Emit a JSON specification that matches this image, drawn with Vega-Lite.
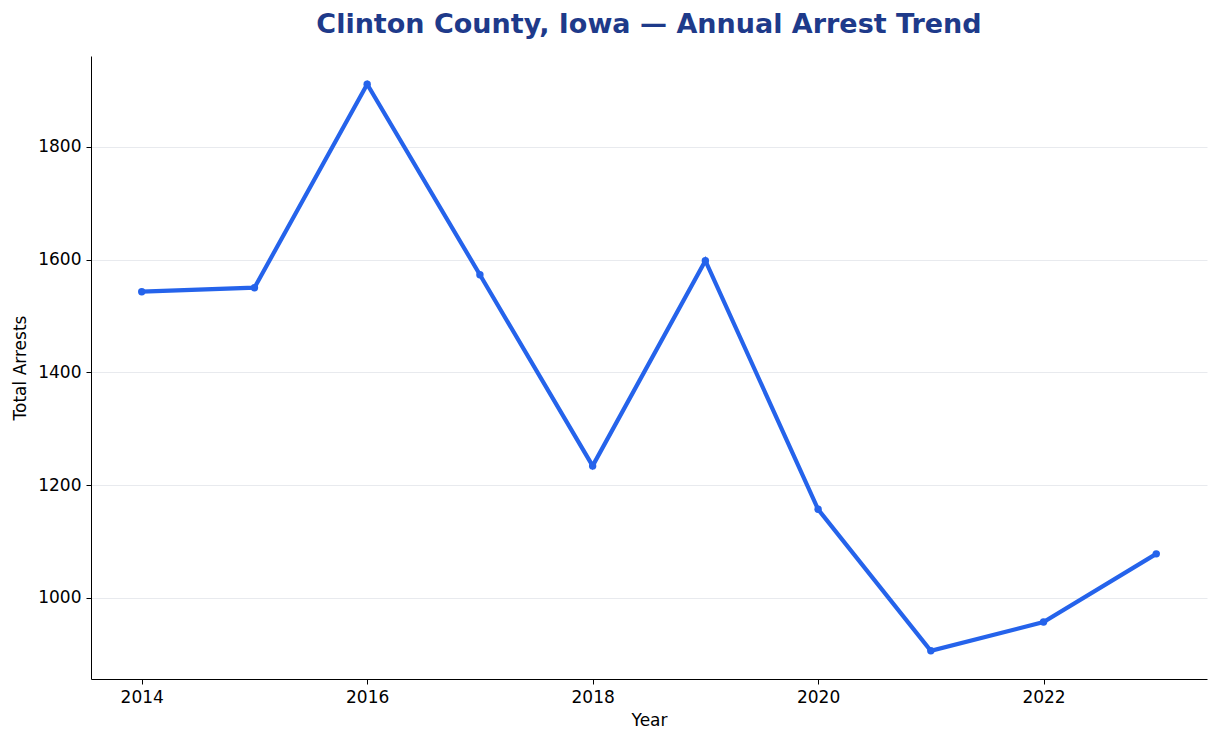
{
  "$schema": "https://vega.github.io/schema/vega-lite/v6.json",
  "autosize": {"type": "none"},
  "width": 1116,
  "height": 623,
  "padding": {"left": 91, "top": 56, "right": 12, "bottom": 64},
  "background": "white",
  "title": {
    "text": "Clinton County, Iowa — Annual Arrest Trend",
    "font": "DejaVu Sans",
    "fontSize": 27,
    "fontWeight": "bold",
    "color": "#1e3a8a",
    "anchor": "middle",
    "offset": 17
  },
  "data": {
    "values": [
      {"year": 2014, "arrests": 1543},
      {"year": 2015, "arrests": 1550},
      {"year": 2016, "arrests": 1911},
      {"year": 2017, "arrests": 1573},
      {"year": 2018, "arrests": 1234},
      {"year": 2019, "arrests": 1598},
      {"year": 2020, "arrests": 1157},
      {"year": 2021, "arrests": 906},
      {"year": 2022, "arrests": 957},
      {"year": 2023, "arrests": 1078}
    ]
  },
  "encoding": {
    "x": {
      "field": "year",
      "type": "quantitative",
      "title": "Year",
      "scale": {"domain": [2013.55, 2023.45], "nice": false, "zero": false},
      "axis": {"values": [2014, 2016, 2018, 2020, 2022], "format": "d", "grid": false}
    },
    "y": {
      "field": "arrests",
      "type": "quantitative",
      "title": "Total Arrests",
      "scale": {"domain": [856, 1961], "nice": false, "zero": false},
      "axis": {"values": [1000, 1200, 1400, 1600, 1800], "format": "d", "grid": true}
    }
  },
  "layer": [
    {"mark": {"type": "line", "color": "#2563eb", "strokeWidth": 4.2}},
    {"mark": {"type": "point", "filled": true, "opacity": 1, "color": "#2563eb", "size": 55}}
  ],
  "config": {
    "view": {"stroke": null},
    "font": "DejaVu Sans",
    "axis": {
      "labelFont": "DejaVu Sans",
      "titleFont": "DejaVu Sans",
      "labelFontSize": 17,
      "titleFontSize": 17,
      "titleFontWeight": "normal",
      "labelColor": "#000000",
      "titleColor": "#000000",
      "domainColor": "#000000",
      "tickColor": "#000000",
      "tickSize": 5,
      "labelPadding": 5,
      "gridColor": "#e8eaee",
      "gridWidth": 1
    },
    "axisX": {"titlePadding": 7},
    "axisY": {"titlePadding": 8}
  }
}
